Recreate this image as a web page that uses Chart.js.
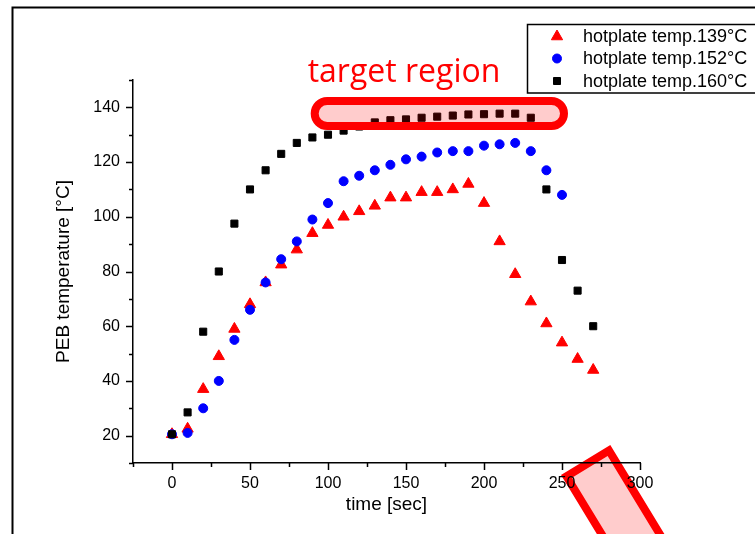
<!DOCTYPE html>
<html>
<head>
<meta charset="utf-8">
<script src="https://cdn.jsdelivr.net/npm/chart.js@4.4.1/dist/chart.umd.min.js"></script>
<style>
  html, body { margin: 0; padding: 0; background: #fff; }
  canvas { display: block; }
</style>
</head>
<body>
<canvas id="c" width="755" height="534"></canvas>
<script>
// ---- data ----
const timeSec = [0, 10, 20, 30, 40, 50, 60, 70, 80, 90, 100, 110, 120, 130, 140, 150, 160, 170, 180, 190, 200, 210, 220, 230, 240, 250, 260, 270];
const temp139 = [20.5, 22.5, 37, 49, 59, 68, 76, 82.5, 88, 94, 97, 100, 102, 104, 107, 107, 109, 109, 110, 112, 105, 91, 79, 69, 61, 54, 48, 44];
const temp152 = [20.5, 21, 30, 40, 55, 66, 76, 84.5, 91, 99, 105, 113, 115, 117, 119, 121, 122, 123.5, 124, 124, 126, 126.5, 127, 124, 117, 108];
const temp160 = [20.5, 28.5, 58, 80, 97.5, 110, 117, 123, 127, 129, 130, 131.5, 133, 134.5, 135.3, 135.6, 136.2, 136.6, 137, 137.4, 137.5, 137.7, 137.7, 136.2, 110, 84.2, 73, 60];
const seriesLabels = ['hotplate temp.139°C', 'hotplate temp.152°C', 'hotplate temp.160°C'];
const xTickMajor = [0, 50, 100, 150, 200, 250, 300];
const yTickMajor = [20, 40, 60, 80, 100, 120, 140];
const xTitle = 'time [sec]';
const yTitle = 'PEB temperature [°C]';
const annotationText = 'target region';

const FONT = "'Liberation Sans', Arial, sans-serif";

function toPoints(vals) {
  return vals.map((v, i) => ({ x: timeSec[i], y: v }));
}

const styles = [
  { color: '#ff0000', style: 'triangle', radius: 6.5, order: 3 },
  { color: '#0000ff', style: 'circle', radius: 4.5, order: 2 },
  { color: '#000000', style: 'rect', radius: 5, order: 1 }
];
const seriesVals = [temp139, temp152, temp160];

const datasets = seriesVals.map((vals, i) => ({
  label: seriesLabels[i],
  data: toPoints(vals),
  pointStyle: styles[i].style,
  pointRadius: styles[i].radius,
  pointBackgroundColor: styles[i].color,
  pointBorderColor: styles[i].color,
  pointBorderWidth: 1,
  showLine: false,
  order: styles[i].order
}));

function drawMarker(ctx, style, x, y, color) {
  ctx.save();
  ctx.fillStyle = color;
  ctx.strokeStyle = color;
  ctx.lineWidth = 1;
  ctx.beginPath();
  if (style === 'triangle') {
    const r = 6.5;
    ctx.moveTo(x, y - r);
    ctx.lineTo(x + r * 0.866, y + r / 2);
    ctx.lineTo(x - r * 0.866, y + r / 2);
    ctx.closePath();
  } else if (style === 'circle') {
    ctx.arc(x, y, 4.5, 0, Math.PI * 2);
  } else {
    ctx.rect(x - 3.5, y - 3.5, 7, 7);
  }
  ctx.fill();
  ctx.stroke();
  ctx.restore();
}

const decor = {
  id: 'decor',
  beforeDraw(chart) {
    const ctx = chart.ctx;
    ctx.save();
    ctx.fillStyle = '#fff';
    ctx.fillRect(0, 0, chart.width, chart.height);
    // outer frame
    ctx.strokeStyle = '#000';
    ctx.lineWidth = 2;
    ctx.strokeRect(12.5, 7.5, 800, 600);
    // rotated rectangle (bottom right)
    ctx.translate(561, 475);
    ctx.rotate(-31.3 * Math.PI / 180);
    ctx.fillStyle = 'rgba(255,0,0,0.2)';
    ctx.fillRect(4, 4, 49.7, 200);
    ctx.strokeStyle = '#ff0000';
    ctx.lineWidth = 8;
    ctx.strokeRect(4, 4, 49.7, 200);
    ctx.restore();
  },
  afterDatasetsDraw(chart) {
    const ctx = chart.ctx;
    ctx.save();
    // rounded highlight rectangle
    const x0 = 314.7, x1 = 564, y0 = 101, y1 = 126, r = 12.5;
    ctx.beginPath();
    ctx.moveTo(x0 + r, y0);
    ctx.lineTo(x1 - r, y0);
    ctx.arc(x1 - r, y0 + r, r, -Math.PI / 2, Math.PI / 2);
    ctx.lineTo(x0 + r, y1);
    ctx.arc(x0 + r, y0 + r, r, Math.PI / 2, Math.PI * 1.5);
    ctx.closePath();
    ctx.fillStyle = 'rgba(255,0,0,0.2)';
    ctx.fill();
    ctx.strokeStyle = '#ff0000';
    ctx.lineWidth = 8;
    ctx.stroke();
    // annotation text
    ctx.fillStyle = '#ff0000';
    ctx.font = "32px 'Open Sans', 'Noto Sans', sans-serif";
    ctx.textAlign = 'center';
    ctx.textBaseline = 'alphabetic';
    ctx.fillText(annotationText, 404, 82);
    ctx.restore();
  },
  afterDraw(chart) {
    const ctx = chart.ctx;
    const xs = chart.scales.x, ys = chart.scales.y;
    ctx.save();
    ctx.strokeStyle = '#000';
    ctx.lineWidth = 1.5;
    ctx.beginPath();
    xs.ticks.forEach(t => {
      const px = Math.round(xs.getPixelForValue(t.value)) + 0.5;
      const len = xTickMajor.includes(t.value) ? 7 : 4;
      ctx.moveTo(px, xs.top);
      ctx.lineTo(px, xs.top + len);
    });
    ys.ticks.forEach(t => {
      const py = Math.round(ys.getPixelForValue(t.value)) + 0.5;
      const len = yTickMajor.includes(t.value) ? 7 : 4;
      ctx.moveTo(ys.right, py);
      ctx.lineTo(ys.right - len, py);
    });
    ctx.stroke();

    // legend
    ctx.lineWidth = 1.5;
    ctx.strokeRect(527.5, 24.5, 300, 68.5);
    const rowsY = [36.5, 58.5, 81];
    ctx.font = '18px ' + FONT;
    ctx.textAlign = 'left';
    ctx.textBaseline = 'middle';
    chart.data.datasets.forEach((ds, i) => {
      drawMarker(ctx, styles[i].style, 557, rowsY[i], styles[i].color);
      ctx.fillStyle = '#000';
      ctx.fillText(ds.label, 583, rowsY[i] + 1);
    });
    ctx.restore();
  }
};

Chart.defaults.color = '#000';
Chart.defaults.font.family = FONT;

new Chart(document.getElementById('c'), {
  type: 'scatter',
  data: { datasets },
  options: {
    responsive: false,
    animation: false,
    devicePixelRatio: 1,
    layout: { padding: { top: 80, right: 115, left: 0, bottom: 0 } },
    plugins: { legend: { display: false }, tooltip: { enabled: false } },
    scales: {
      x: {
        type: 'linear',
        min: -25, max: 300,
        ticks: {
          stepSize: 25,
          autoSkip: false,
          maxRotation: 0,
          padding: 11,
          font: { size: 16, family: FONT },
          color: '#000',
          callback: v => (xTickMajor.includes(v) ? String(v) : '')
        },
        grid: { display: false, drawTicks: false },
        border: { display: true, color: '#000', width: 1.5 },
        title: { display: true, text: xTitle, font: { size: 19, family: FONT }, color: '#000', padding: { top: 0, bottom: 18 } },
        afterFit: s => { s.height = 71; }
      },
      y: {
        type: 'linear',
        min: 10, max: 150,
        ticks: {
          stepSize: 10,
          autoSkip: false,
          padding: 13,
          font: { size: 16, family: FONT },
          color: '#000',
          callback: v => (yTickMajor.includes(v) ? String(v) : '')
        },
        grid: { display: false, drawTicks: false },
        border: { display: true, color: '#000', width: 1.5 },
        title: { display: true, text: yTitle, font: { size: 19, family: FONT }, color: '#000', padding: { top: 52, bottom: 0 } },
        afterFit: s => { s.width = 133; }
      }
    }
  },
  plugins: [decor]
});
</script>
</body>
</html>
